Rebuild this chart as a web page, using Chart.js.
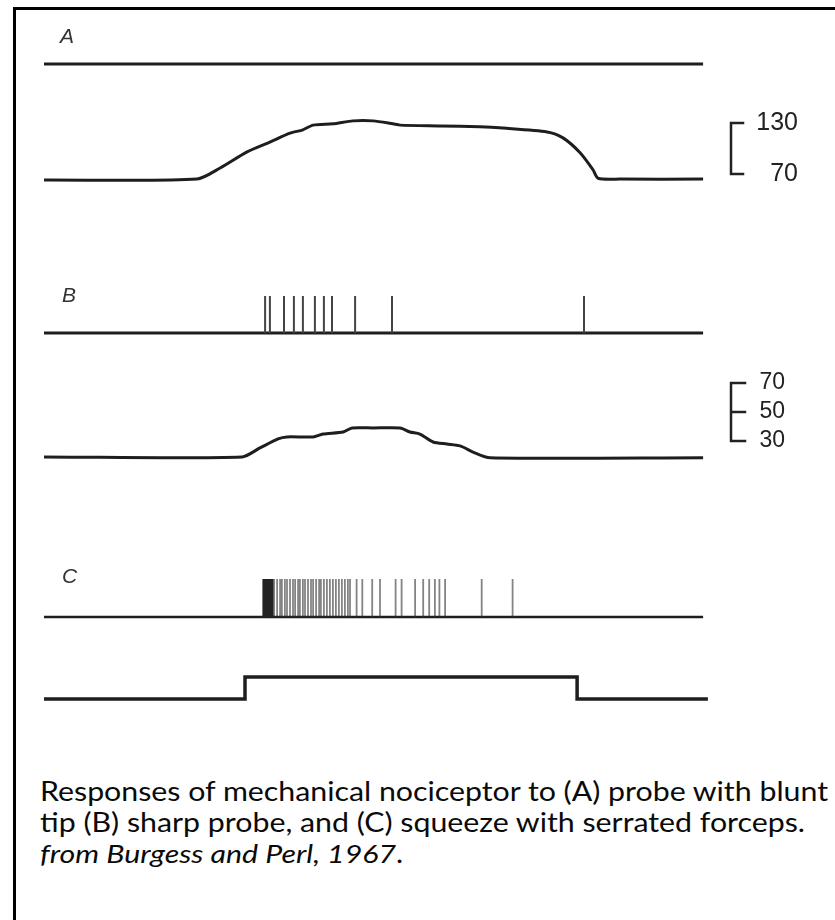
<!DOCTYPE html>
<html>
<head>
<meta charset="utf-8">
<script src="https://cdn.jsdelivr.net/npm/chart.js@4.4.1/dist/chart.umd.min.js"></script>
<style>
  html, body { margin: 0; padding: 0; background: #fff; }
  body { width: 835px; height: 920px; position: relative; overflow: hidden; }
  #frame {
    position: absolute; left: 13px; top: 7px; width: 900px; height: 950px;
    border-left: 3px solid #000; border-top: 3px solid #000;
  }
  #traces { position: absolute; left: 0; top: 0; }
  #caption {
    position: absolute; left: 40px; top: 776px;
    font-family: Lato, "Open Sans", sans-serif; font-size: 26px; line-height: 31px;
    color: #0a0a0a; white-space: nowrap; transform-origin: 0 0;
  }
  #caption i { font-style: italic; }
</style>
</head>
<body>
<div id="frame"></div>
<canvas id="traces" width="835" height="730"></canvas>
<div id="caption">
  <span id="cap1">Responses of mechanical nociceptor to (A) probe with blunt</span><br>
  tip (B) sharp probe, and (C) squeeze with serrated forceps.<br>
  <i>from Burgess and Perl, 1967</i>.
</div>

<script>
// ===============================
// Data (time in s)
// ===============================
const traceEnd = 21.97;

// A: blunt probe, pressure trace
const pressA_t = [0, 5.1, 5.87, 6.77, 7.53, 8.2, 8.63, 8.97, 9.63, 10.3, 10.97, 11.63, 11.87, 13.2, 14.53, 15.3, 16.77, 17.3, 17.87, 18.3, 18.47, 19.2, 21.97];
const pressA_v = [63, 64, 77, 96, 107.5, 118, 122, 127.5, 129, 132.5, 132.5, 129, 127.5, 126.5, 125.5, 124, 119.5, 112.5, 95, 75, 65, 64, 64];
const scaleA = [130, 70];

// B: sharp probe
const spikesB = [7.37, 7.53, 8.0, 8.33, 8.63, 9.03, 9.33, 9.6, 10.37, 11.6, 18.0];
const pressB_t = [0, 6.6, 7.2, 7.8, 8.1, 8.97, 9.3, 9.97, 10.27, 10.97, 11.87, 12.2, 12.53, 12.97, 13.43, 13.87, 14.3, 14.87, 21.97];
const pressB_v = [19, 19, 25.2, 31.4, 32.8, 32.8, 34.8, 36.2, 39, 39, 39, 36.2, 34.8, 29.3, 27.9, 26.6, 22.4, 18.4, 18.4];
const scaleB = [70, 50, 30];

// C: squeeze with serrated forceps
const burstC = [7.33, 7.36, 7.4, 7.43, 7.46, 7.5, 7.53, 7.56, 7.6];
const spikesC = [
  7.67, 7.77, 7.87, 7.93, 8.03, 8.1, 8.2, 8.3, 8.37,
  8.47, 8.53, 8.63, 8.7, 8.8, 8.9, 8.97, 9.07, 9.17, 9.23, 9.33, 9.43, 9.53, 9.63, 9.73,
  9.83, 9.93, 10.03, 10.13, 10.2, 10.42, 10.61, 10.94, 11.2, 11.72, 11.92, 12.37, 12.64,
  12.84, 13.03, 13.18, 13.37, 14.59, 15.62
];
const stepC_t = [0, 6.7, 6.7, 17.77, 17.77, 22.13];
const stepC_v = [0, 0, 1, 1, 0, 0];

// ===============================
// Layout helpers
// ===============================
const TOP = 20, BOTTOM = 710;
const fit = (v1, p1, v2, p2) => {
  const s = (p2 - p1) / (v1 - v2);
  const max = v1 + (p1 - TOP) / s;
  return { min: max - (BOTTOM - TOP) / s, max };
};
const hidden = (range) => ({ type: "linear", display: false, min: range.min, max: range.max });

const pts = (ts, vs) => ts.map((t, i) => ({ x: t, y: vs[i] }));
const spikePts = (ts) => {
  const out = [];
  ts.forEach(t => { out.push({ x: t, y: 0 }, { x: t, y: 1 }, { x: t, y: null }); });
  return out;
};
const flat = () => [{ x: 0, y: 0 }, { x: traceEnd, y: 0 }];

const ink = "#1e1e1e";
const thick = (data, yAxisID, extra) => Object.assign({
  data, yAxisID, borderColor: ink, borderWidth: 3, pointRadius: 0, tension: 0.25, fill: false
}, extra || {});
const thin = (data, yAxisID, color, w) => ({
  data, yAxisID, borderColor: color, borderWidth: w, pointRadius: 0, tension: 0, spanGaps: false, fill: false,
  borderCapStyle: "butt"
});

// ===============================
// Scale bar plugin (uses the axis of each trace)
// ===============================
const scaleBars = {
  id: "scaleBars",
  afterDatasetsDraw(chart, args, opts) {
    const ctx = chart.ctx;
    opts.bars.forEach(b => {
      const sc = chart.scales[b.axis];
      const ys = b.values.map(v => sc.getPixelForValue(v));
      const top = Math.min(...ys), bot = Math.max(...ys);
      ctx.save();
      ctx.strokeStyle = "#222";
      ctx.lineWidth = 2.5;
      ctx.lineCap = "square";
      ctx.beginPath();
      ctx.moveTo(b.x, top); ctx.lineTo(b.x, bot);
      ys.forEach(y => { ctx.moveTo(b.x, y); ctx.lineTo(b.x + b.tick, y); });
      ctx.stroke();
      ctx.fillStyle = "#222";
      ctx.font = b.font;
      ctx.textAlign = "right";
      ctx.textBaseline = "middle";
      b.values.forEach((v, i) => ctx.fillText(String(v), b.labelX, ys[i]));
      ctx.restore();
    });
    // panel letters
    ctx.save();
    ctx.fillStyle = "#333";
    ctx.font = "italic 21px 'Liberation Sans Narrow', 'Liberation Sans', sans-serif";
    ctx.textBaseline = "middle";
    opts.letters.forEach(l => ctx.fillText(l.text, l.x, l.y));
    ctx.restore();
  }
};

new Chart(document.getElementById("traces"), {
  type: "line",
  data: {
    datasets: [
      thick(flat(), "yAs", { tension: 0 }),
      thick(pts(pressA_t, pressA_v), "yAp"),
      thin(spikePts(spikesB), "yBs", "#444", 2),
      thick(flat(), "yBs", { tension: 0 }),
      thick(pts(pressB_t, pressB_v), "yBp"),
      thin(spikePts(burstC), "yCs", "#222", 3),
      thin(spikePts(spikesC), "yCs", "rgba(50,50,50,0.6)", 1.8),
      thick(flat(), "yCs", { tension: 0, borderWidth: 2.5 }),
      thick(pts(stepC_t, stepC_v), "yCp", { tension: 0, borderWidth: 3.5 })
    ]
  },
  options: {
    responsive: false,
    animation: false,
    layout: { padding: { left: 44, right: 835 - 710, top: TOP, bottom: 730 - BOTTOM } },
    plugins: {
      legend: { display: false },
      tooltip: { enabled: false },
      scaleBars: {
        bars: [
          { axis: "yAp", values: scaleA, x: 731, tick: 12, labelX: 798, font: "25px 'Liberation Sans', sans-serif" },
          { axis: "yBp", values: scaleB, x: 731, tick: 14, labelX: 785, font: "23px 'Liberation Sans', sans-serif" }
        ],
        letters: [
          { text: "A", x: 60, y: 37 },
          { text: "B", x: 62, y: 296 },
          { text: "C", x: 62, y: 577 }
        ]
      }
    },
    scales: {
      x: { type: "linear", display: false, min: 0, max: 22.2 },
      yAs: hidden(fit(0, 64, 1, 27)),
      yAp: hidden(fit(130, 123, 70, 174)),
      yBs: hidden(fit(0, 333, 1, 296)),
      yBp: hidden(fit(70, 383, 30, 441)),
      yCs: hidden(fit(0, 617, 1, 579)),
      yCp: hidden(fit(1, 677, 0, 699))
    }
  },
  plugins: [scaleBars]
});

// stretch caption to the width it has in the reference
const cap = document.getElementById("caption");
const w1 = document.getElementById("cap1").getBoundingClientRect().width;
cap.style.transform = "scaleX(" + (788 / w1) + ")";
</script>
</body>
</html>
